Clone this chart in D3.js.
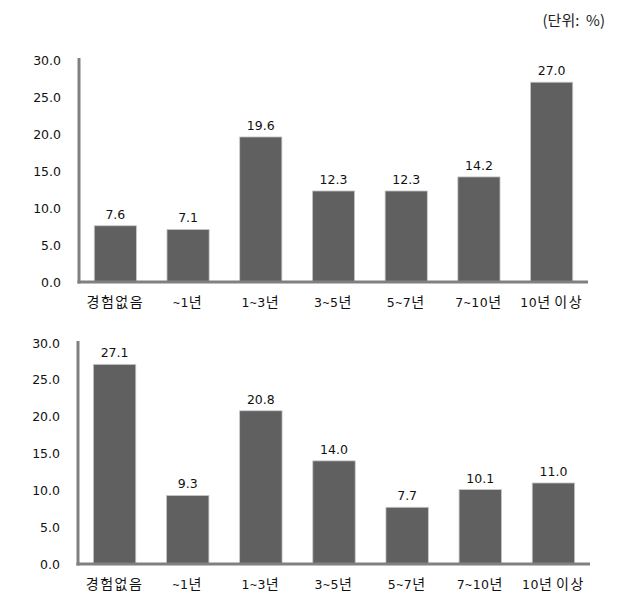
<!DOCTYPE html>
<html><head><meta charset="utf-8">
<script src="https://cdn.jsdelivr.net/npm/d3@7"></script>
<style>body{margin:0;background:#fff}svg{display:block}</style>
</head><body>
<svg id="c" width="630" height="609"></svg>
<script>
const categories = ["경험없음", "~1년", "1~3년", "3~5년", "5~7년", "7~10년", "10년 이상"];
const valuesTop = [7.6, 7.1, 19.6, 12.3, 12.3, 14.2, 27.0];
const valuesBottom = [27.1, 9.3, 20.8, 14.0, 7.7, 10.1, 11.0];
const yTicks = [0, 5, 10, 15, 20, 25, 30];
const unitLabel = "(단위:\u00a0 %)";

const svg = d3.select("#c");
const font = "'DejaVu Sans', Verdana, 'Noto Sans CJK KR', sans-serif";
const kfont = "'Noto Sans CJK KR', sans-serif";

svg.append("text").attr("x", 605).attr("y", 26).attr("text-anchor", "end")
  .attr("font-family", kfont).attr("font-size", 15).attr("fill", "#222")
  .text(unitLabel);

function runs(s) {
  const out = [];
  for (const ch of s) {
    const t = /[\uAC00-\uD7A3]/.test(ch) ? "k" : (ch === "~" ? "t" : (ch === " " ? "s" : "n"));
    if (out.length && out[out.length - 1].t === t) out[out.length - 1].s += ch;
    else out.push({ t, s: ch });
  }
  return out;
}

function panel(values, top, bottom, left, right) {
  const g = svg.append("g");
  const x = d3.scaleBand().domain(categories).range([left, right]).paddingInner(0.42).paddingOuter(0.21);
  const y = d3.scaleLinear().domain([0, 30]).range([bottom, top]);

  g.selectAll("rect.bar").data(values).join("rect")
    .attr("x", (d, i) => x(categories[i]))
    .attr("y", d => y(d))
    .attr("width", x.bandwidth())
    .attr("height", d => y(0) - y(d))
    .attr("fill", "#606060")
    .attr("stroke", "#c8c8c8").attr("stroke-width", 0.8);

  g.selectAll("text.val").data(values).join("text")
    .attr("x", (d, i) => x(categories[i]) + x.bandwidth() / 2)
    .attr("y", d => y(d) - 7)
    .attr("text-anchor", "middle")
    .attr("font-family", font).attr("font-size", 12.5).attr("fill", "#111")
    .text(d => d.toFixed(1));

  const ya = d3.axisLeft(y).tickValues(yTicks).tickFormat(d => d.toFixed(1)).tickSize(0).tickPadding(18);
  const ag = g.append("g").attr("transform", `translate(${left},0)`).call(ya);
  ag.select(".domain").remove();
  ag.selectAll("text").attr("font-family", font).attr("font-size", 12.5).attr("fill", "#111");

  g.append("line").attr("x1", left).attr("x2", left).attr("y1", top - 2).attr("y2", bottom + 1.5)
    .attr("stroke", "#808080").attr("stroke-width", 3);
  g.append("line").attr("x1", left - 1.5).attr("x2", right).attr("y1", bottom).attr("y2", bottom)
    .attr("stroke", "#808080").attr("stroke-width", 3);

  const xa = d3.axisBottom(x).tickSize(0).tickPadding(16);
  const xg = g.append("g").attr("transform", `translate(0,${bottom})`).call(xa);
  xg.select(".domain").remove();
  xg.selectAll("text").each(function (d) {
    const t = d3.select(this).text("").attr("fill", "#111").attr("dy", "0.9em");
    runs(d).forEach(r => {
      const sp = t.append("tspan").text(r.s);
      if (r.t === "k") sp.attr("font-family", kfont).attr("font-size", 14).attr("letter-spacing", "1.5px");
      else if (r.t === "t") sp.attr("font-family", "'Liberation Sans', sans-serif").attr("font-size", 12).attr("letter-spacing", "0.5px");
      else if (r.t === "s") sp.attr("font-family", kfont).attr("font-size", 12);
      else sp.attr("font-family", font).attr("font-size", 12.5).attr("letter-spacing", "0.5px");
    });
  });
}

panel(valuesTop, 60, 282, 79, 588);
panel(valuesBottom, 343, 564, 78, 590);
</script>
</body></html>
